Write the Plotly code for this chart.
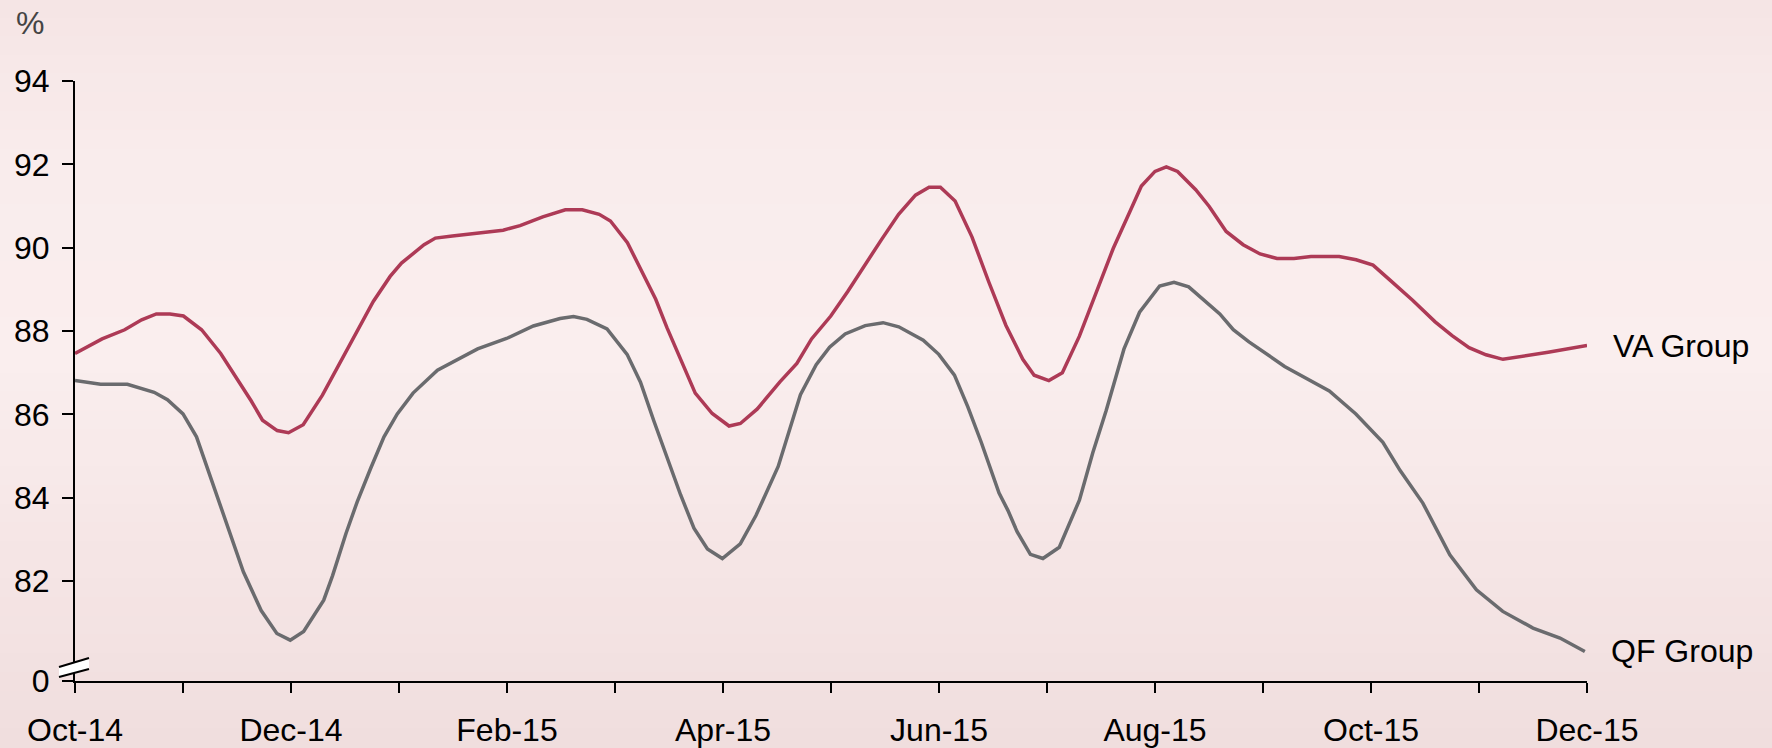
import plotly.graph_objects as go

# ---- data (x = months since Oct-14) ----
va_x = [0.0, 0.146, 0.251, 0.46, 0.617, 0.753, 0.879, 1.004, 1.172, 1.349, 1.506, 1.632, 1.736, 1.872,
        1.977, 2.113, 2.291, 2.448, 2.605, 2.762, 2.918, 3.023, 3.232, 3.337, 3.494, 3.703, 3.964, 4.121,
        4.331, 4.54, 4.697, 4.854, 4.958, 5.115, 5.272, 5.377, 5.481, 5.638, 5.743, 5.9, 6.056, 6.161,
        6.318, 6.527, 6.684, 6.82, 6.998, 7.155, 7.312, 7.469, 7.626, 7.782, 7.908, 8.013, 8.149, 8.305,
        8.462, 8.619, 8.776, 8.881, 9.017, 9.142, 9.299, 9.456, 9.613, 9.77, 9.874, 10.0, 10.105, 10.209,
        10.377, 10.502, 10.659, 10.816, 10.973, 11.13, 11.287, 11.444, 11.705, 11.862, 12.019, 12.176,
        12.385, 12.594, 12.751, 12.908, 13.065, 13.222, 13.379, 13.64, 14.0]
va_y = [87.46, 87.65, 87.81, 88.03, 88.27, 88.41, 88.41, 88.36, 88.03, 87.46, 86.84, 86.32, 85.86, 85.61,
        85.56, 85.75, 86.46, 87.22, 87.95, 88.71, 89.31, 89.63, 90.07, 90.23, 90.28, 90.34, 90.42, 90.53,
        90.74, 90.91, 90.91, 90.8, 90.64, 90.12, 89.31, 88.76, 88.08, 87.13, 86.51, 86.02, 85.72, 85.78,
        86.13, 86.78, 87.22, 87.81, 88.36, 88.95, 89.58, 90.2, 90.8, 91.26, 91.45, 91.45, 91.12, 90.26,
        89.17, 88.14, 87.32, 86.94, 86.81, 87.0, 87.87, 88.95, 89.98, 90.88, 91.48, 91.83, 91.94, 91.83,
        91.39, 90.99, 90.39, 90.07, 89.85, 89.74, 89.74, 89.79, 89.79, 89.71, 89.58, 89.22,
        88.74, 88.22, 87.89, 87.6, 87.43, 87.32, 87.38, 87.49, 87.65]

qf_x = [0.0, 0.237, 0.485, 0.733, 0.856, 1.0, 1.125, 1.228, 1.332, 1.456, 1.559, 1.724, 1.869, 1.993,
        2.117, 2.303, 2.385, 2.509, 2.613, 2.737, 2.861, 2.984, 3.13, 3.356, 3.728, 3.996, 4.244, 4.492,
        4.616, 4.74, 4.926, 5.112, 5.236, 5.36, 5.484, 5.607, 5.731, 5.856, 5.994, 6.16, 6.305, 6.511,
        6.717, 6.863, 6.987, 7.131, 7.317, 7.482, 7.627, 7.854, 7.998, 8.143, 8.267, 8.391, 8.556, 8.639,
        8.722, 8.846, 8.962, 9.114, 9.30, 9.424, 9.548, 9.713, 9.857, 10.043, 10.176, 10.312, 10.60,
        10.725, 10.87, 11.2, 11.614, 11.86, 12.11, 12.27, 12.48, 12.73, 12.976, 13.22, 13.5, 13.75, 13.98]
qf_y = [86.81, 86.72, 86.72, 86.53, 86.35, 86.01, 85.46, 84.70, 83.94, 82.98, 82.22, 81.29, 80.74, 80.58,
        80.79, 81.54, 82.13, 83.14, 83.90, 84.70, 85.46, 86.01, 86.51, 87.06, 87.57, 87.82, 88.12, 88.30,
        88.35, 88.28, 88.05, 87.44, 86.77, 85.84, 84.96, 84.07, 83.27, 82.77, 82.54, 82.89, 83.57, 84.75,
        86.47, 87.19, 87.61, 87.93, 88.13, 88.20, 88.10, 87.78, 87.44, 86.94, 86.18, 85.33, 84.11, 83.69,
        83.19, 82.64, 82.54, 82.81, 83.94, 85.08, 86.09, 87.57, 88.45, 89.08, 89.17, 89.06, 88.41,
        88.03, 87.74, 87.15, 86.56, 86.01, 85.33, 84.65, 83.87, 82.63, 81.79, 81.27, 80.87, 80.63, 80.31]

month_ticks = list(range(15))
month_labels = ["Oct-14", "", "Dec-14", "", "Feb-15", "", "Apr-15", "", "Jun-15", "", "Aug-15", "",
                "Oct-15", "", "Dec-15"]
y_ticks = [79.6, 82, 84, 86, 88, 90, 92, 94]
y_labels = ["0", "82", "84", "86", "88", "90", "92", "94"]
series_names = ["VA Group", "QF Group"]

W, H = 1772, 748
ML, MR, MT, MB = 75, 185, 81, 67
PW, PH = W - ML - MR, H - MT - MB
FONT = "Arial, Liberation Sans, sans-serif"
FS = 32

fig = go.Figure()
fig.add_trace(go.Scatter(x=va_x, y=va_y, mode="lines", name=series_names[0],
                         line=dict(color="#ad3a56", width=3.5)))
fig.add_trace(go.Scatter(x=qf_x, y=qf_y, mode="lines", name=series_names[1],
                         line=dict(color="#6a6b6e", width=3.5)))

# background gradient bands (figure pixels -> paper coords)
stops = [(0, (245, 229, 229)), (160, (249, 236, 236)), (360, (250, 238, 238)),
         (560, (245, 229, 229)), (748, (240, 222, 222))]
shapes = []
nb = 40
for i in range(nb):
    p0 = H * i / nb
    p1 = H * (i + 1) / nb
    pm = (p0 + p1) / 2
    for j in range(len(stops) - 1):
        if stops[j][0] <= pm <= stops[j + 1][0]:
            t = (pm - stops[j][0]) / (stops[j + 1][0] - stops[j][0])
            c = tuple(int(round(stops[j][1][k] + t * (stops[j + 1][1][k] - stops[j][1][k]))) for k in range(3))
            break
    y0 = (H - MB - p1) / PH
    y1 = (H - MB - p0) / PH
    shapes.append(dict(type="rect", xref="paper", yref="paper", layer="below",
                       x0=-ML / PW, x1=1 + MR / PW, y0=y0 - 0.002, y1=y1 + 0.002,
                       fillcolor="rgb(%d,%d,%d)" % c, line=dict(width=0)))

# axis break marker
shapes.append(dict(type="path", xref="paper", yref="paper", xsizemode="pixel", ysizemode="pixel",
                   xanchor=0, yanchor=0, layer="above",
                   path="M -16,4 L 14,12 L 14,23 L -16,14 Z",
                   fillcolor="white", line=dict(width=0)))
shapes.append(dict(type="path", xref="paper", yref="paper", xsizemode="pixel", ysizemode="pixel",
                   xanchor=0, yanchor=0, layer="above",
                   path="M -16,4 L 14,12", line=dict(color="black", width=2)))
shapes.append(dict(type="path", xref="paper", yref="paper", xsizemode="pixel", ysizemode="pixel",
                   xanchor=0, yanchor=0, layer="above",
                   path="M -16,14 L 14,23", line=dict(color="black", width=2)))

annotations = [
    dict(x=va_x[-1], y=va_y[-1], text=series_names[0], showarrow=False, xanchor="left",
         xshift=24, font=dict(size=FS, color="black", family=FONT)),
    dict(x=qf_x[-1], y=qf_y[-1], text=series_names[1], showarrow=False, xanchor="left",
         xshift=24, font=dict(size=FS, color="black", family=FONT)),
    dict(x=-ML / PW + 30 / PW, y=(H - MB - 23) / PH, xref="paper", yref="paper", text="%",
         showarrow=False, xanchor="center", yanchor="middle",
         font=dict(size=FS, color="#444444", family=FONT)),
]

fig.update_layout(
    width=W, height=H,
    margin=dict(l=ML, r=MR, t=MT, b=MB, pad=0, autoexpand=False),
    paper_bgcolor="rgb(246,232,232)",
    plot_bgcolor="rgba(0,0,0,0)",
    showlegend=False,
    shapes=shapes,
    annotations=annotations,
    font=dict(family=FONT, size=FS, color="black"),
    xaxis=dict(range=[0, 14], tickvals=month_ticks, ticktext=month_labels, automargin=False,
               showgrid=False, zeroline=False, showline=True, linecolor="black", linewidth=2,
               ticks="outside", ticklen=10, tickwidth=2, tickcolor="black", ticklabelstandoff=10,
               tickfont=dict(size=FS, family=FONT, color="black")),
    yaxis=dict(range=[79.6, 94], tickvals=y_ticks, ticktext=y_labels, automargin=False,
               showgrid=False, zeroline=False, showline=True, linecolor="black", linewidth=2,
               ticks="outside", ticklen=11, tickwidth=2, tickcolor="black", ticklabelstandoff=6,
               tickfont=dict(size=FS, family=FONT, color="black")),
)

fig.write_html("out.html")
